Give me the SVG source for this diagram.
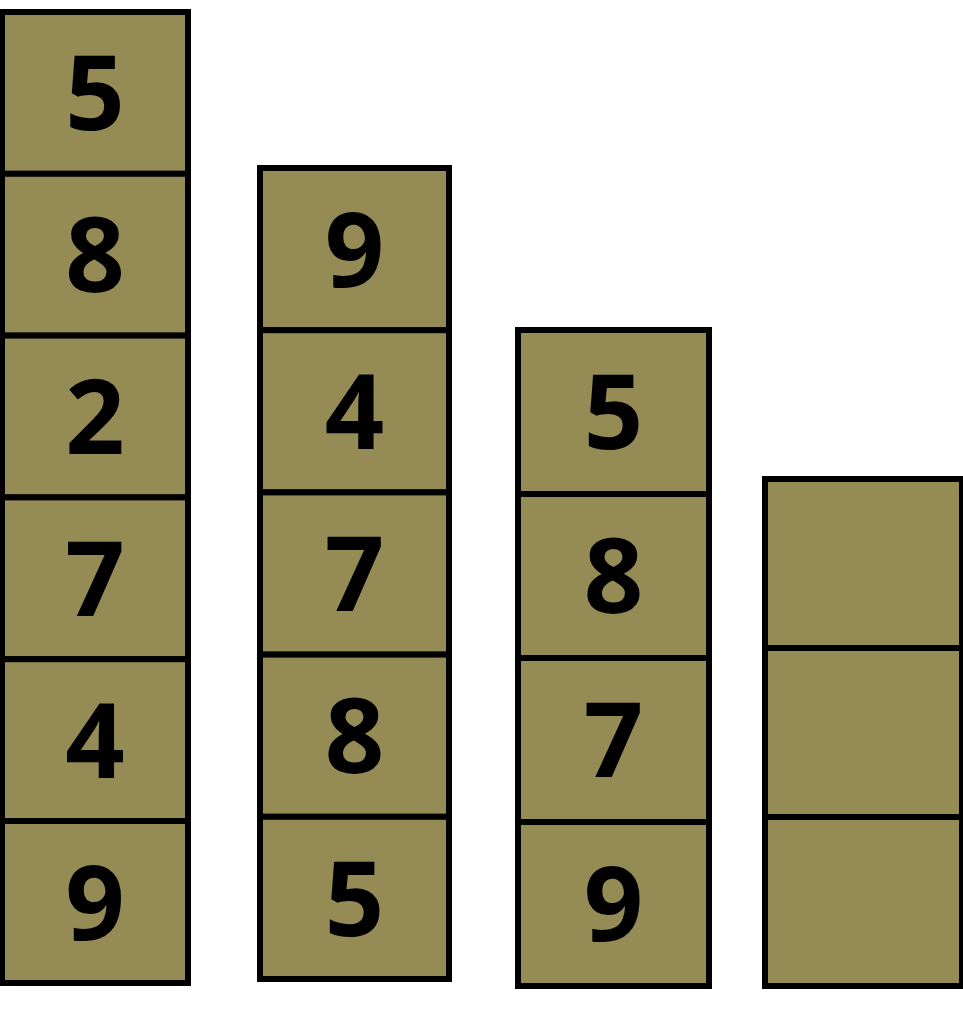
<svg xmlns="http://www.w3.org/2000/svg" width="963" height="1026" viewBox="0 0 963 1026">
<style>
.c{fill:#958b55;stroke:#000;stroke-width:6}
.t{font-family:"Open Sans","Noto Sans",sans-serif;font-weight:bold;font-size:104px;text-anchor:middle;fill:#000}
</style>
<rect width="963" height="1026" fill="#fff"/>
<g id="stack1">
<rect class="c" x="2" y="12" width="186" height="161.8"/>
<rect class="c" x="2" y="173.8" width="186" height="161.8"/>
<rect class="c" x="2" y="335.6" width="186" height="161.8"/>
<rect class="c" x="2" y="497.4" width="186" height="161.8"/>
<rect class="c" x="2" y="659.2" width="186" height="161.8"/>
<rect class="c" x="2" y="821" width="186" height="162"/>
<text class="t" x="95" y="130">5</text>
<text class="t" x="95" y="292">8</text>
<text class="t" x="95" y="454">2</text>
<text class="t" x="95" y="616">7</text>
<text class="t" x="95" y="778">4</text>
<text class="t" x="95" y="940">9</text>
</g>
<g id="stack2">
<rect class="c" x="260" y="168" width="189" height="162.2"/>
<rect class="c" x="260" y="330.2" width="189" height="162.2"/>
<rect class="c" x="260" y="492.4" width="189" height="162.2"/>
<rect class="c" x="260" y="654.6" width="189" height="162.2"/>
<rect class="c" x="260" y="816.8" width="189" height="162.2"/>
<text class="t" x="354.5" y="287">9</text>
<text class="t" x="354.5" y="449">4</text>
<text class="t" x="354.5" y="611">7</text>
<text class="t" x="354.5" y="773">8</text>
<text class="t" x="354.5" y="936">5</text>
</g>
<g id="stack3">
<rect class="c" x="518" y="330" width="191" height="164"/>
<rect class="c" x="518" y="494" width="191" height="164"/>
<rect class="c" x="518" y="658" width="191" height="164"/>
<rect class="c" x="518" y="822" width="191" height="164"/>
<text class="t" x="613.5" y="449">5</text>
<text class="t" x="613.5" y="613">8</text>
<text class="t" x="613.5" y="777">7</text>
<text class="t" x="613.5" y="941">9</text>
</g>
<g id="stack4">
<rect class="c" x="765" y="479" width="197" height="169"/>
<rect class="c" x="765" y="648" width="197" height="169"/>
<rect class="c" x="765" y="817" width="197" height="169"/>
</g>
<g id="connectors"/>
</svg>
